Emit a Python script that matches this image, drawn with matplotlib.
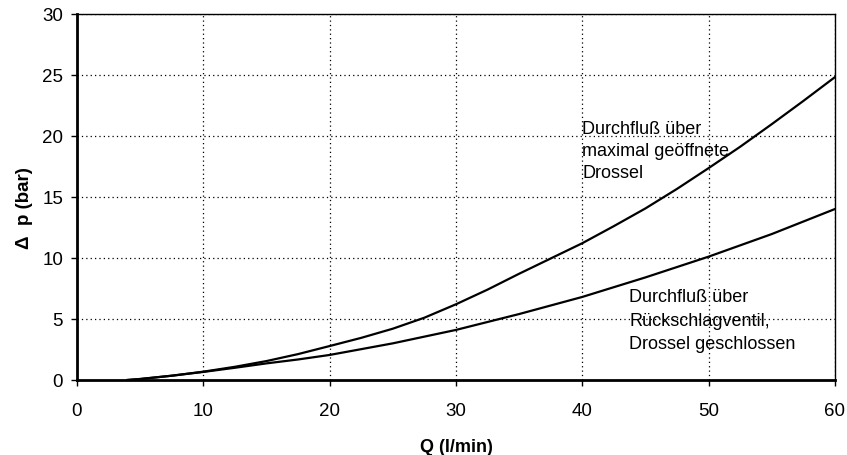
import matplotlib.pyplot as plt

plt.rcParams['font.family'] = ['Liberation Sans', 'DejaVu Sans']

# values
q_offen = [4, 5, 7.5, 10, 12.5, 15, 17.5, 20, 22.5, 25, 27.5, 30, 32.5, 35, 37.5, 40,
           42.5, 45, 47.5, 50, 52.5, 55, 57.5, 60]
dp_drossel_offen = [0, 0.08, 0.35, 0.68, 1.08, 1.55, 2.12, 2.78, 3.45, 4.2, 5.1, 6.2,
                    7.4, 8.7, 9.95, 11.2, 12.6, 14.05, 15.65, 17.35, 19.1, 20.95, 22.85, 24.8]
q_rueck = [4, 5, 7.5, 10, 12.5, 15, 17.5, 20, 25, 30, 35, 40, 45, 50, 55, 60]
dp_rueckschlag = [0, 0.08, 0.35, 0.66, 1.0, 1.36, 1.68, 2.05, 3.0, 4.1, 5.4, 6.8, 8.4,
                  10.1, 11.95, 14.0]

x_ticks = [0, 10, 20, 30, 40, 50, 60]
y_ticks = [0, 5, 10, 15, 20, 25, 30]

fig = plt.figure(figsize=(8.47, 4.56), dpi=100)
ax = fig.add_axes([0.0909, 0.1645, 0.8949, 0.8035])

ax.plot(q_offen, dp_drossel_offen, color='black', linewidth=1.6)
ax.plot(q_rueck, dp_rueckschlag, color='black', linewidth=1.6)

ax.set_xlim(0, 60)
ax.set_ylim(0, 30)
ax.set_xticks(x_ticks)
ax.set_yticks(y_ticks)
ax.grid(True, color='black', linestyle=(0, (1, 2.5)), linewidth=0.9)
ax.set_axisbelow(True)

for side in ['left', 'bottom']:
    ax.spines[side].set_linewidth(2)
for side in ['top', 'right']:
    ax.spines[side].set_linewidth(1)

ax.tick_params(direction='out', length=4, width=1, labelsize=13.5, pad=6)
ax.tick_params(axis='x', pad=12)

ax.set_xlabel('Q (l/min)', fontsize=13, fontweight='bold')
ax.xaxis.set_label_coords(0.5, -0.158)
ax.set_ylabel('Δ  p (bar)', fontsize=13.5, fontweight='bold')
ax.yaxis.set_label_coords(-0.058, 0.473)

ax.text(40.0, 21.3, 'Durchfluß über\nmaximal geöffnete\nDrossel', fontsize=13,
        va='top', ha='left', linespacing=1.4)
ax.text(43.7, 7.5, 'Durchfluß über\nRückschlagventil,\nDrossel geschlossen', fontsize=13,
        va='top', ha='left', linespacing=1.5)

plt.savefig('out.png', dpi=100)
